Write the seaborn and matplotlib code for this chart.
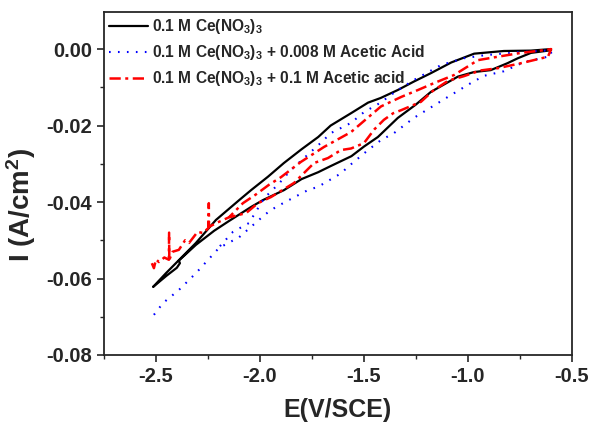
import numpy as np
import pandas as pd
import matplotlib
matplotlib.use("Agg")
import matplotlib.pyplot as plt
from matplotlib.ticker import MultipleLocator
import seaborn as sns

# ---- data ----
# Black: 0.1 M Ce(NO3)3 (closed loop)
ce_E = [-0.60, -0.697, -0.827, -0.97, -1.08, -1.178, -1.26, -1.337, -1.42, -1.48, -1.56, -1.66,
        -1.72, -1.80, -1.885, -1.962, -2.043, -2.10, -2.212, -2.308, -2.39, -2.452, -2.514,
        -2.45, -2.40, -2.385, -2.39, -2.308, -2.22, -2.15, -2.043, -1.986, -1.885, -1.80, -1.72, -1.66,
        -1.56, -1.50, -1.433, -1.337, -1.25, -1.178, -1.10, -1.048, -0.97, -0.89, -0.81,
        -0.76, -0.697, -0.60]
ce_I = [0.0, -0.0004, -0.0005, -0.0012, -0.0035, -0.0063, -0.0085, -0.0107, -0.0128, -0.0140, -0.0167, -0.0200,
        -0.0230, -0.0262, -0.0298, -0.0334, -0.0369, -0.0395, -0.0447, -0.0507, -0.0552, -0.0586, -0.0622,
        -0.0593, -0.0572, -0.0560, -0.0553, -0.0512, -0.0475, -0.0450, -0.0413, -0.0395, -0.0369, -0.0340, -0.0322, -0.0306,
        -0.0280, -0.0255, -0.0230, -0.0180, -0.0145, -0.0112, -0.0088, -0.0072, -0.0060, -0.0055, -0.0037,
        -0.0024, -0.0010, -0.0003]

# Blue: + 0.008 M Acetic Acid
aa1_E = [-2.51, -2.466, -2.39, -2.308, -2.197, -2.10, -1.995, -1.96, -1.923, -1.851, -1.77, -1.72,
         -1.61, -1.577, -1.48, -1.418, -1.356, -1.26, -1.096, -0.986, -0.923, -0.827, -0.73, -0.60,
         -0.60, -0.75, -0.92, -1.02, -1.13, -1.26, -1.35, -1.42, -1.50, -1.562, -1.66, -1.707,
         -1.851, -1.909, -1.98, -2.053, -2.13, -2.20]
aa1_I = [-0.0695, -0.0664, -0.0630, -0.0586, -0.0520, -0.0492, -0.0442, -0.0426, -0.0413, -0.0392, -0.0369, -0.0360,
         -0.0325, -0.0308, -0.0264, -0.0238, -0.0220, -0.0180, -0.0125, -0.0089, -0.0070, -0.0058, -0.0034, -0.0018,
         -0.0003, -0.0008, -0.0016, -0.0024, -0.0042, -0.0081, -0.0112, -0.0140, -0.0165, -0.0193, -0.0220, -0.0245,
         -0.0316, -0.0352, -0.0390, -0.0455, -0.0478, -0.0520]

# Red: + 0.1 M Acetic acid
aa2_E = [-2.52, -2.51, -2.50, -2.486, -2.46, -2.438, -2.437, -2.436, -2.42, -2.39, -2.36, -2.341,
         -2.30, -2.274, -2.248, -2.246, -2.245, -2.21, -2.178, -2.149,
         -2.067, -2.01, -1.947, -1.836, -1.74, -1.673, -1.61, -1.562, -1.50, -1.45, -1.404, -1.36,
         -1.322, -1.226, -1.17, -1.096, -1.02, -0.94, -0.856, -0.745, -0.615,
         -0.60, -0.635, -0.745, -0.856, -0.952, -1.067, -1.163, -1.24, -1.32, -1.418, -1.562, -1.692,
         -1.803, -1.899, -1.957, -2.019, -2.082, -2.149]
aa2_I = [-0.0560, -0.0573, -0.0550, -0.0557, -0.0545, -0.0551, -0.0480, -0.0551, -0.0530, -0.0525, -0.0500, -0.0507,
         -0.0478, -0.0481, -0.0468, -0.0403, -0.0465, -0.0455, -0.0447, -0.0440,
         -0.0429, -0.0403, -0.0387, -0.0350, -0.0298, -0.0285, -0.0264, -0.0260, -0.0246, -0.0210, -0.0185, -0.0168,
         -0.0160, -0.0138, -0.0110, -0.0083, -0.0071, -0.0056, -0.0050, -0.0037, -0.0020,
         0.0, -0.0003, -0.0010, -0.0020, -0.0029, -0.0068, -0.0089, -0.0107, -0.0125, -0.0150, -0.0217, -0.0256,
         -0.0295, -0.0335, -0.0355, -0.0380, -0.0403, -0.0440]

labels = [r"0.1 M Ce(NO$_\mathbf{3}$)$_\mathbf{3}$",
          r"0.1 M Ce(NO$_\mathbf{3}$)$_\mathbf{3}$ + 0.008 M Acetic Acid",
          r"0.1 M Ce(NO$_\mathbf{3}$)$_\mathbf{3}$ + 0.1 M Acetic acid"]
xticks = [-2.5, -2.0, -1.5, -1.0, -0.5]
yticks = [0.00, -0.02, -0.04, -0.06, -0.08]

# ---- style ----
sns.set_style("ticks")
plt.rcParams["font.family"] = ["Liberation Sans", "DejaVu Sans"]
plt.rcParams["font.weight"] = "bold"
plt.rcParams["mathtext.fontset"] = "custom"
plt.rcParams["mathtext.rm"] = "Liberation Sans:bold"
plt.rcParams["mathtext.bf"] = "Liberation Sans:bold"
plt.rcParams["mathtext.it"] = "Liberation Sans:bold"

fig = plt.figure(figsize=(5.92, 4.28), dpi=100)
ax = fig.add_axes([0.1757, 0.1706, 0.7903, 0.8014])

df1 = pd.DataFrame({"E": ce_E, "I": ce_I})
df2 = pd.DataFrame({"E": aa1_E, "I": aa1_I})
df3 = pd.DataFrame({"E": aa2_E, "I": aa2_I})

sns.lineplot(data=df1, x="E", y="I", sort=False, estimator=None, ax=ax,
             color="black", lw=1.6, label=labels[0])
sns.lineplot(data=df2, x="E", y="I", sort=False, estimator=None, ax=ax,
             color="#0000ff", lw=1.5, linestyle=(0, (0.8, 3.5)), label=labels[1])
sns.lineplot(data=df3, x="E", y="I", sort=False, estimator=None, ax=ax,
             color="#ff0000", lw=1.8, linestyle=(0, (4.5, 1.8, 1.2, 1.8)), label=labels[2])

ax.set_xlim(-2.75, -0.5)
ax.set_ylim(-0.08, 0.0097)
ax.set_xticks(xticks)
ax.set_yticks(yticks)
ax.set_xticklabels([f"{v:.1f}" for v in xticks])
ax.set_yticklabels([f"{v:.2f}" for v in yticks])
ax.xaxis.set_minor_locator(MultipleLocator(0.25))
ax.yaxis.set_minor_locator(MultipleLocator(0.01))
ax.tick_params(axis="both", which="major", direction="out", length=5, width=1.2,
               labelsize=14.5, top=False, right=False)
ax.tick_params(axis="both", which="minor", direction="out", length=3, width=1.0,
               top=False, right=False)
for lab in ax.get_xticklabels() + ax.get_yticklabels():
    lab.set_fontweight("bold")
for sp in ax.spines.values():
    sp.set_linewidth(1.3)
    sp.set_visible(True)

ax.set_xlabel("E(V/SCE)", fontsize=18, fontweight="bold", labelpad=9)
ax.set_ylabel(r"I (A/cm$^\mathbf{2}$)", fontsize=20, fontweight="bold")
ax.yaxis.set_label_coords(-0.142, 0.437)

leg = ax.legend(loc="upper left", frameon=False, handlelength=2.5,
                handletextpad=0.25, labelspacing=0.45, borderaxespad=0.05,
                borderpad=0.3, prop={"weight": "bold", "size": 11.2})

fig.savefig("out.png", dpi=100)
